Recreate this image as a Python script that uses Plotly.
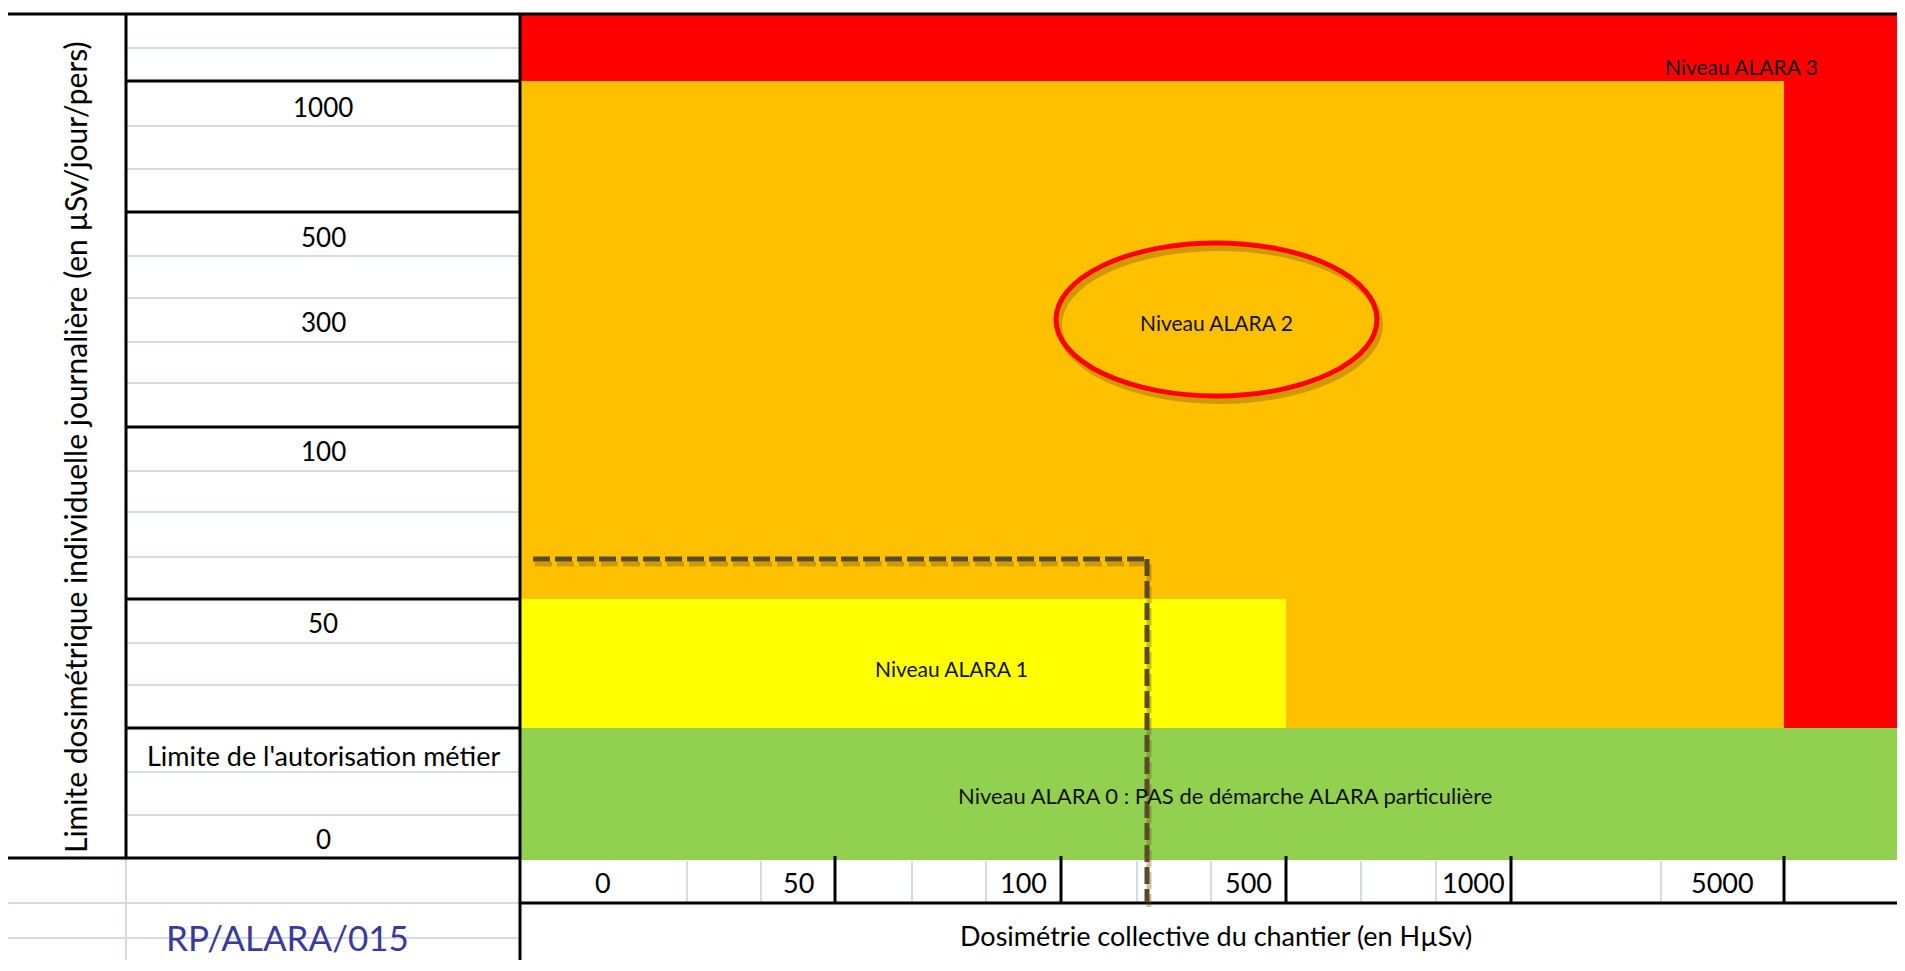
import plotly.graph_objects as go

# ---- values of the sheet ----
x_labels = ["0", "50", "100", "500", "1000", "5000"]
y_labels = ["1000", "500", "300", "100", "50", "Limite de l'autorisation métier", "0"]
x_title = "Dosimétrie collective du chantier (en HµSv)"
y_title = "Limite dosimétrique individuelle journalière (en µSv/jour/pers)"
ref_code = "RP/ALARA/015"

zone_names = ["Niveau ALARA 3", "Niveau ALARA 2", "Niveau ALARA 1",
              "Niveau ALARA 0 : PAS de démarche ALARA particulière"]
zone_colors = ["#FF0000", "#FFC000", "#FFFF00", "#92D050"]
# zone extents, in terms of the thresholds of each axis
zone_x_from = ["0", "0", "0", "0"]
zone_x_to = ["max", "5000", "500", "max"]
zone_y_from = ["Limite de l'autorisation métier", "Limite de l'autorisation métier",
               "Limite de l'autorisation métier", "0"]
zone_y_to = ["max", "1000", "50", "Limite de l'autorisation métier"]

# example job marked with the dashed lines (between thresholds)
example_x = 1147
example_y = 559

# ---- sheet geometry (pixel grid of the spreadsheet) ----
W, H = 1905, 971
PAD = 8  # page margin around the plot div
x_thresh = {"0": 520, "50": 835, "100": 1061, "500": 1286, "1000": 1511, "5000": 1784, "max": 1905}
x_label_pos = [603, 798, 1023, 1248, 1473, 1722]
x_gray = [687, 761, 912, 986, 1137, 1211, 1361, 1436, 1661]
y_thresh = {"max": 13, "1000": 81, "500": 212, "100": 427, "50": 599,
            "Limite de l'autorisation métier": 728, "0": 860}
y_label_pos = [107, 237, 322, 451, 623, 755, 839]
y_gray = [48, 126, 169, 256, 298, 342, 383, 471, 512, 557, 643, 685, 772, 815]
zone_label_pos = [(1741, 66), (1216, 322), (951, 668), (1225, 795)]

col_left, col_mid, col_plot = 2, 126, 520
row_xlab_bot, row_bottom = 903, 969

FONT = "Lato, 'Open Sans', sans-serif"
GRID = "#D3DAE8"

fig = go.Figure()
shapes = []
ann = []


def line(x0, y0, x1, y1, color="black", width=3, dash=None, layer="above"):
    d = dict(color=color, width=width)
    if dash:
        d["dash"] = dash
    shapes.append(dict(type="line", xref="x", yref="y", x0=x0, y0=y0, x1=x1, y1=y1,
                       line=d, layer=layer))


# zones
for name, c, xf, xt, yf, yt in zip(zone_names, zone_colors, zone_x_from, zone_x_to,
                                    zone_y_from, zone_y_to):
    shapes.append(dict(type="rect", xref="x", yref="y",
                       x0=x_thresh[xf], x1=x_thresh[xt],
                       y0=y_thresh[yt], y1=y_thresh[yf],
                       fillcolor=c, line=dict(width=0), layer="below"))

# light spreadsheet grid in the label column
for y in y_gray:
    line(col_mid, y, col_plot, y, GRID, 2)
for y in [903, 938]:
    line(0, y, col_plot, y, GRID, 2)
line(col_mid, 858, col_mid, H, GRID, 2)
for x in x_gray:
    line(x, 861, x, row_xlab_bot, GRID, 2)
line(col_plot, row_bottom, W, row_bottom, "#B8B8B8", 2)

# black table borders
line(0, 14, W, 14, "black", 3)
line(col_left, 14, col_left, 858, "black", 3)
line(col_mid, 14, col_mid, 858, "black", 3)
line(col_plot, 14, col_plot, H, "black", 3)
for k in ["1000", "500", "100", "50", "Limite de l'autorisation métier"]:
    line(col_mid, y_thresh[k], col_plot, y_thresh[k], "black", 3)
line(col_left, 858, col_plot, 858, "black", 3)
line(col_plot, row_xlab_bot, W, row_xlab_bot, "black", 3)
for k in ["50", "100", "500", "1000", "5000"]:
    line(x_thresh[k], 856, x_thresh[k], row_xlab_bot, "black", 3)

# ellipse around ALARA 2 with soft shadow
ex0, ex1, ey0, ey1 = 1056, 1377, 243, 396
shapes.append(dict(type="circle", xref="x", yref="y", x0=ex0 + 3, x1=ex1 + 3,
                   y0=ey0 + 5, y1=ey1 + 5, line=dict(color="rgba(120,80,0,0.35)", width=6)))
shapes.append(dict(type="circle", xref="x", yref="y", x0=ex0, x1=ex1, y0=ey0, y1=ey1,
                   line=dict(color="#FF0000", width=5)))

# dashed example lines with shadow
for dx, dy, col in [(2, 5, "rgba(110,80,0,0.35)"), (0, 0, "#5A4A2C")]:
    line(533 + dx, example_y + dy, example_x + dx, example_y + dy, col, 5, "17px,5px")
    line(example_x + dx, example_y + dy, example_x + dx, 902 + dy, col, 5, "17px,5px")

fig.update_layout(shapes=shapes)

# texts
for lab, y in zip(y_labels, y_label_pos):
    ann.append(dict(x=(col_mid + col_plot) / 2, y=y, text=lab, showarrow=False,
                    font=dict(family=FONT, size=27 if len(lab) > 10 else 26, color="black")))
for lab, x in zip(x_labels, x_label_pos):
    ann.append(dict(x=x, y=882, text=lab, showarrow=False,
                    font=dict(family=FONT, size=27, color="black")))
for name, (x, y) in zip(zone_names, zone_label_pos):
    ann.append(dict(x=x, y=y, text=name, showarrow=False,
                    font=dict(family=FONT, size=22 if len(name) > 20 else 21, color="#111111")))
ann.append(dict(x=1216, y=935, text=x_title, showarrow=False,
                font=dict(family=FONT, size=27, color="black")))
ann.append(dict(x=75, y=447, text=y_title, showarrow=False, textangle=-90,
                font=dict(family=FONT, size=30, color="black")))
ann.append(dict(x=287, y=937, text=ref_code, showarrow=False,
                font=dict(family=FONT, size=35, color="#3A3A9E")))
for a in ann:
    a.update(xref="x", yref="y")

# the page adds an 8px margin: shift the sheet so it lands where the original is
VIS_H = H - 2 * PAD - 3
fig.update_layout(
    annotations=ann,
    width=W - PAD, height=VIS_H,
    margin=dict(l=0, r=0, t=0, b=0),
    paper_bgcolor="white", plot_bgcolor="white",
    xaxis=dict(range=[PAD, W], visible=False, fixedrange=True),
    yaxis=dict(range=[PAD + VIS_H, PAD], visible=False, fixedrange=True),
    showlegend=False,
)

fig.write_html("out.html")
